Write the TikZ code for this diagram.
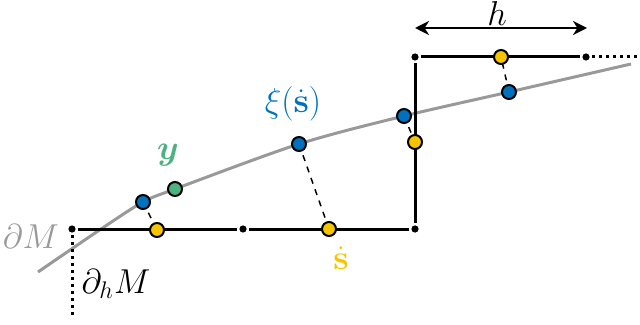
\documentclass[tikz,border=0pt]{standalone}
\usepackage{amsmath,bm}
\usetikzlibrary{arrows.meta}
\definecolor{xiblue}{RGB}{0,114,189}
\definecolor{sgold}{RGB}{247,196,0}
\definecolor{ygreen}{RGB}{76,178,128}
\definecolor{bdgray}{RGB}{153,153,153}

\begin{document}
\begin{tikzpicture}[x=0.5pt,y=-0.5pt,
  seg/.style={line width=1.5pt},
  dot/.style={circle,fill,inner sep=0pt,minimum size=3.6pt,outer sep=1.2pt},
  pt/.style={circle,draw,line width=1pt,inner sep=0pt,minimum size=7pt},
  link/.style={dashed,line width=0.75pt},
  lbl/.style={inner sep=1pt,font=\LARGE}]
\useasboundingbox (0,0) rectangle (640,325);

\draw[bdgray,line width=1.5pt] plot[smooth] coordinates {(38,272) (101,229) (143,202) (175,189) (299,144) (404,116) (509,92) (631,64)};

\node[dot] (b0) at (72,229) {};
\node[dot] (b1) at (243,229) {};
\node[dot] (b2) at (415,229) {};
\node[dot] (t0) at (415,57) {};
\node[dot] (t1) at (586,57) {};
\coordinate (fr) at (640,57);
\coordinate (fd) at (72,318);

\draw[seg] (b0) -- (b1);
\draw[seg] (b1) -- (b2);
\draw[seg] (b2) -- (t0);
\draw[seg] (t0) -- (t1);
\draw[seg,dotted] (t1) -- (fr);
\draw[seg,dotted] (b0) -- (fd);

\coordinate (hl) at (415,28);
\coordinate (hr) at (587,28);
\draw[line width=1.2pt,{Stealth[inset=2.2pt,length=7pt,width=7pt]}-{Stealth[inset=2.2pt,length=7pt,width=7pt]}] (hl) -- (hr);
\node[lbl] (hlab) at (497,14) {$h$};

\draw[link] (143,202) -- (157,230);
\draw[link] (299,144) -- (329,229);
\draw[link] (404,116) -- (415,142);
\draw[link] (509,92) -- (501,57);

\node[pt,fill=xiblue] (xa) at (143,202) {};
\node[pt,fill=ygreen] (y) at (175,189) {};
\node[pt,fill=xiblue] (xb) at (299,144) {};
\node[pt,fill=xiblue] (xc) at (404,116) {};
\node[pt,fill=xiblue] (xd) at (509,92) {};
\node[pt,fill=sgold] (sa) at (157,230) {};
\node[pt,fill=sgold] (sb) at (329,229) {};
\node[pt,fill=sgold] (sc) at (415,142) {};
\node[pt,fill=sgold] (sd) at (501,57) {};

\node[lbl,bdgray] (dm) at (31,237) {$\partial M$};
\node[lbl] (dhm) at (116,284) {$\partial_h M$};
\node[lbl,ygreen] (ylab) at (168,155) {$\bm{y}$};
\node[lbl,xiblue] (xilab) at (293,104) {$\xi(\dot{\mathbf{s}})$};
\node[lbl,sgold] (slab) at (341,258) {$\dot{\mathbf{s}}$};
\end{tikzpicture}
\end{document}
